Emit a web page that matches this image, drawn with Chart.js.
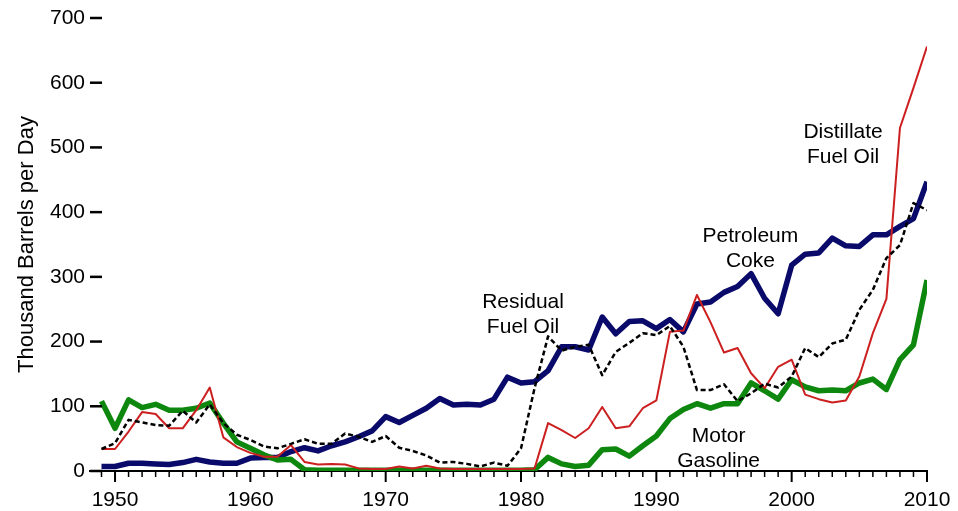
<!DOCTYPE html>
<html>
<head>
<meta charset="utf-8">
<script src="https://cdn.jsdelivr.net/npm/chart.js@4.4.1/dist/chart.umd.min.js"></script>
<style>
    html, body { margin: 0; padding: 0; background: #fff; }
    .chart-container { position: relative; width: 958px; height: 511px; }
</style>
</head>
<body>
<div class="chart-container">
    <canvas id="fuelChart"></canvas>
</div>

<script>
    const years = [1949, 1950, 1951, 1952, 1953, 1954, 1955, 1956, 1957, 1958,
        1959, 1960, 1961, 1962, 1963, 1964, 1965, 1966, 1967, 1968,
        1969, 1970, 1971, 1972, 1973, 1974, 1975, 1976, 1977, 1978,
        1979, 1980, 1981, 1982, 1983, 1984, 1985, 1986, 1987, 1988,
        1989, 1990, 1991, 1992, 1993, 1994, 1995, 1996, 1997, 1998,
        1999, 2000, 2001, 2002, 2003, 2004, 2005, 2006, 2007, 2008,
        2009, 2010];

    // thousand barrels per day
    const petroleumCoke = [7, 7, 12, 12, 11, 10, 13, 18, 14, 12,
        12, 20, 21, 21, 30, 36, 31, 39, 45, 53,
        62, 84, 75, 86, 97, 112, 102, 103, 102, 111,
        145, 136, 138, 155, 192, 192, 187, 238, 212, 231,
        232, 220, 234, 215, 258, 261, 276, 285, 305, 267,
        243, 318, 335, 337, 360, 348, 347, 365, 365, 378,
        390, 447];

    const distillate = [34, 34, 61, 91, 88, 66, 66, 94, 129, 52,
        37, 28, 22, 22, 40, 14, 10, 11, 10, 4,
        3, 3, 7, 4, 8, 4, 3, 3, 3, 3,
        3, 3, 4, 74, 63, 51, 66, 99, 66, 69,
        97, 109, 215, 217, 272, 230, 183, 190, 151, 128,
        161, 172, 118, 111, 106, 109, 146, 213, 266, 530,
        592, 656];

    const residual = [34, 43, 79, 75, 71, 70, 93, 75, 103, 74,
        56, 48, 38, 35, 42, 49, 42, 42, 58, 53,
        45, 54, 36, 31, 24, 13, 14, 11, 7, 13,
        8, 35, 128, 208, 186, 192, 195, 148, 184, 198,
        213, 210, 224, 192, 125, 125, 134, 108, 120, 135,
        129, 146, 190, 176, 197, 203, 249, 280, 329, 349,
        414, 403];

    const motorGasoline = [108, 66, 110, 98, 103, 94, 94, 97, 105, 74,
        45, 35, 25, 17, 18, 2, 1, 1, 1, 1,
        1, 1, 1, 1, 1, 1, 1, 1, 1, 1,
        1, 1, 2, 21, 11, 7, 9, 33, 34, 23,
        39, 54, 81, 95, 104, 97, 104, 104, 136, 124,
        111, 141, 130, 124, 125, 124, 136, 142, 126, 172,
        195, 295];

    const decadeLabels = [1950, 1960, 1970, 1980, 1990, 2000, 2010];
    const yTicks = [0, 100, 200, 300, 400, 500, 600, 700];

    // text labels placed next to the lines (year, value of first baseline)
    const seriesLabels = [
        { lines: ['Distillate', 'Fuel Oil'], year: 2003.8, value: 514 },
        { lines: ['Petroleum', 'Coke'], year: 1996.95, value: 354 },
        { lines: ['Residual', 'Fuel Oil'], year: 1980.15, value: 252 },
        { lines: ['Motor', 'Gasoline'], year: 1994.6, value: 45 }
    ];

    const FONT = '"Liberation Sans", Arial, Helvetica, sans-serif';

    function toPoints(values) {
        return years.map((yr, i) => ({ x: yr, y: values[i] }));
    }

    // minor/major tick marks and the line labels
    const axisMarks = {
        id: 'axisMarks',
        afterDraw(chart) {
            const ctx = chart.ctx;
            const xs = chart.scales.x;
            const ys = chart.scales.y;
            const area = chart.chartArea;
            ctx.save();
            ctx.strokeStyle = '#000';
            years.forEach(yr => {
                const px = xs.getPixelForValue(yr);
                const major = decadeLabels.includes(yr);
                ctx.lineWidth = major ? 2 : 1.5;
                ctx.beginPath();
                ctx.moveTo(px, area.bottom);
                ctx.lineTo(px, area.bottom + (major ? 11 : 6));
                ctx.stroke();
            });
            yTicks.forEach(v => {
                const py = ys.getPixelForValue(v);
                ctx.lineWidth = 2.5;
                ctx.beginPath();
                ctx.moveTo(area.left, py);
                ctx.lineTo(area.left + 12, py);
                ctx.stroke();
            });
            ctx.fillStyle = '#000';
            ctx.font = '21px ' + FONT;
            ctx.textAlign = 'center';
            ctx.textBaseline = 'alphabetic';
            seriesLabels.forEach(l => {
                const px = xs.getPixelForValue(l.year);
                const py = ys.getPixelForValue(l.value);
                l.lines.forEach((t, i) => ctx.fillText(t, px, py + i * 25));
            });
            ctx.restore();
        }
    };

    const ctx = document.getElementById('fuelChart').getContext('2d');
    const chart = new Chart(ctx, {
        type: 'line',
        data: {
            datasets: [
                {
                    label: 'Residual Fuel Oil',
                    data: toPoints(residual),
                    borderColor: '#000000',
                    borderWidth: 2.5,
                    borderDash: [5, 3],
                    order: 1
                },
                {
                    label: 'Distillate Fuel Oil',
                    data: toPoints(distillate),
                    borderColor: '#cc1f1f',
                    borderWidth: 2,
                    order: 2
                },
                {
                    label: 'Motor Gasoline',
                    data: toPoints(motorGasoline),
                    borderColor: '#0e870e',
                    borderWidth: 5.5,
                    order: 3
                },
                {
                    label: 'Petroleum Coke',
                    data: toPoints(petroleumCoke),
                    borderColor: '#0a0a6b',
                    borderWidth: 5.5,
                    order: 4
                }
            ]
        },
        options: {
            responsive: true,
            maintainAspectRatio: false,
            animation: false,
            layout: { padding: { left: 10, right: 31, top: 18, bottom: 0 } },
            elements: {
                point: { radius: 0, hoverRadius: 0 },
                line: { tension: 0, fill: false, borderJoinStyle: 'round' }
            },
            plugins: {
                legend: { display: false },
                tooltip: { enabled: false }
            },
            scales: {
                x: {
                    type: 'linear',
                    min: 1948.15,
                    max: 2010,
                    afterBuildTicks: scale => {
                        scale.ticks = decadeLabels.map(v => ({ value: v }));
                    },
                    afterFit: scale => {
                        scale.height = 40;
                    },
                    ticks: {
                        autoSkip: false,
                        maxRotation: 0,
                        padding: 5.5,
                        color: '#000',
                        font: { family: FONT, size: 21 },
                        callback: v => String(v)
                    },
                    grid: {
                        display: true,
                        drawOnChartArea: false,
                        drawTicks: true,
                        tickLength: 11,
                        tickColor: 'rgba(0,0,0,0)'
                    },
                    border: { display: true, color: '#000', width: 2 }
                },
                y: {
                    min: 0,
                    max: 700,
                    afterBuildTicks: scale => {
                        scale.ticks = yTicks.map(v => ({ value: v }));
                    },
                    afterFit: scale => {
                        scale.width = 80;
                    },
                    ticks: {
                        padding: 5,
                        color: '#000',
                        font: { family: FONT, size: 21 }
                    },
                    grid: { display: false, drawTicks: false },
                    border: { display: false },
                    title: {
                        display: true,
                        text: 'Thousand Barrels per Day',
                        color: '#000',
                        font: { family: FONT, size: 22 },
                        padding: { top: 4, bottom: 11 }
                    }
                }
            }
        },
        plugins: [axisMarks]
    });
</script>
</body>
</html>
